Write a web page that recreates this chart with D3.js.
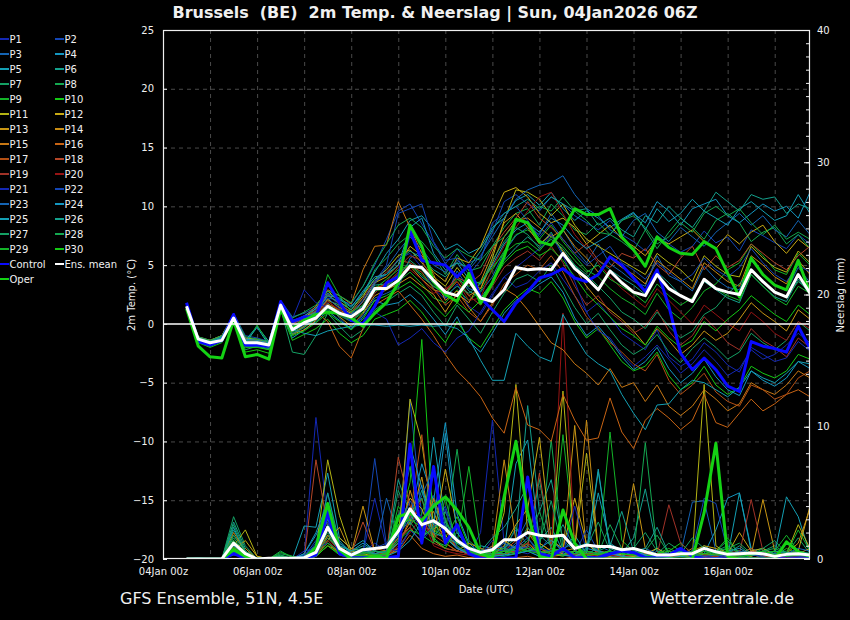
<!DOCTYPE html>
<html>
<head>
<meta charset="utf-8">
<script src="https://cdn.jsdelivr.net/npm/d3@7"></script>
<style>
  body { margin: 0; background: #000; }
  svg { display: block; }
  text { font-family: "DejaVu Sans", sans-serif; fill: #f0f0f0; white-space: pre; }
</style>
</head>
<body>
<svg id="chart" width="850" height="620"></svg>
<script>
// ---- data ----
var firstHour = 12, stepHours = 6, nSteps = 54;   // 04Jan 12z .. 17Jan 18z, 6-hourly
var tickDates = ["2026-01-04", "2026-01-06", "2026-01-08", "2026-01-10", "2026-01-12", "2026-01-14", "2026-01-16"];
var tempTicks = [-20, -15, -10, -5, 0, 5, 10, 15, 20, 25];
var precipTicks = [0, 10, 20, 30, 40];

var memberColors = ["#1428b4", "#1446b4", "#1464b4", "#1496c0", "#14a0b4", "#14a08c", "#14a064", "#14a850", "#14b428", "#14c814",
                    "#b4b414", "#c8aa14", "#c89614", "#c88c14", "#c87814", "#c86414", "#b45014", "#b44628", "#a03228", "#961414"];

var controlTemp = [1.8,-1.5,-1.8,-1.4,0.8,-1.8,-1.8,-1.9,1.9, 0.2,0.6,0.6,3.5,1.8,0.3,0.0,1.5,3.5,
                   4.0,7.9,5.4,5.2,5.0,4.0,5.0,2.2,1.2, 0.2,1.75,2.75,3.9,4.2,4.7,3.9,3.6,4.2,
                   5.7,5.0,3.9,2.75,4.6,1.5,-2.5,-3.9,-2.9, -3.9,-5.3,-5.75,-1.5,-1.9,-2.1,-2.4,-0.2,-2.1];
var operTemp = [1.3,-1.9,-2.8,-2.9,0.3,-2.8,-2.6,-3.0,1.3, -0.4,0.3,0.8,1.0,0.9,0.5,-0.2,0.9,1.8,
                3.5,8.4,6.6,3.6,2.5,1.9,4.3,1.75,3.5, 5.7,8.9,8.6,7.0,6.7,8.0,9.8,9.3,9.3,
                9.8,7.4,6.3,4.9,7.4,6.5,6.0,5.9,7.0, 6.4,4.3,2.3,5.6,4.2,3.3,2.9,5.4,2.6];
var meanTemp = [1.5,-1.3,-1.6,-1.4,0.5,-1.6,-1.6,-1.8,1.6, -0.5,0.1,0.5,1.5,0.9,0.6,1.3,3.0,3.0,
                3.7,4.9,4.8,3.7,2.7,2.4,3.7,2.2,1.9, 2.9,4.8,4.6,4.7,4.6,6.0,4.7,3.9,2.9,
                4.5,3.5,2.7,2.4,4.2,3.0,2.4,1.9,3.8, 3.0,2.7,2.5,4.6,3.6,2.7,2.3,4.2,2.6];

var controlPrecip = [0,0,0,0,0.4,0.05,0,0,0, 0,0,0.3,3.5,0.4,0.1,0.1,0.1,0.1,
                     0.2,8.7,1.2,7.0,1.2,2.6,0.4,0.05,0, 0.05,0.1,6.2,0.4,0.2,0.8,0.1,0.1,0.1,
                     0.4,0.6,0.5,0.1,0.1,0.3,0.8,0.2,0, 0,0,0,0,0,0,0,0,0];
var operPrecip = [0,0,0,0,0.7,0.2,0,0,0, 0,0,0.9,4.2,0.7,0,0,0.2,0.05,
                  3.2,3.5,2.9,4.0,4.7,3.7,2.4,0.4,0.05, 4.7,8.9,3.5,0.2,0,3.7,1.2,0,0,
                  0,0,0,0,0,0,0,0,3.5, 8.75,0.2,0,0,0,0,1.3,0.55,0.2];
var meanPrecip = [0,0,0,0,1.2,0.4,0,0.05,0.05, 0.05,0.1,0.5,2.4,0.8,0.3,0.7,0.8,0.9,
                  2.1,3.8,2.6,2.9,2.3,1.4,0.8,0.5,0.7, 1.45,1.45,2.0,1.8,1.7,1.8,0.8,1.05,0.95,
                  0.95,0.7,0.8,0.55,0.3,0.3,0.4,0.4,0.8, 0.55,0.35,0.4,0.45,0.4,0.2,0.35,0.4,0.3];

// P1 .. P30, 2m temperature
var memberTemp = [
  [1.6,-1.2,-1.5,-1.0,0.7,-1.2,-1.4,-1.6,1.8, 0.0,0.4,1.2,2.6,1.5,0.8,1.9,3.6,4.2, 5.5,6.0,4.8,3.0,2.1,3.4,1.5,0.8,2.4, 4.0,3.1,3.5,4.5,5.2,3.8,2.4,1.0,1.8, 0.6,-0.8,-1.5,-2.2,-0.5,-2.8,-3.6,-3.0,-1.6, -2.4,-3.5,-4.1,-2.0,-2.6,-3.2,-2.9,-1.5,-2.3],
  [1.7,-1.1,-1.4,-1.1,0.9,-1.0,-1.2,-1.5,2.0, 0.6,0.9,1.4,2.2,2.0,1.7,3.2,5.0,7.2, 9.6,10.2,8.5,6.9,5.1,6.4,5.2,5.6,7.8, 10.4,11.0,10.2,9.6,10.8,10.2,9.2,8.6,8.0, 8.8,7.6,7.0,6.2,7.5,6.8,6.1,6.6,7.9, 6.9,7.4,6.2,8.0,7.5,6.9,6.4,7.6,6.8],
  [1.4,-1.4,-1.7,-1.3,0.4,-1.7,-1.8,-2.0,1.4, -0.8,-0.3,0.6,1.8,0.5,-0.5,0.8,2.2,2.6, 3.1,5.6,6.2,3.6,2.2,4.5,3.0,2.7,4.0, 6.1,7.5,8.2,7.6,9.4,8.0,6.4,5.2,6.8, 5.1,4.4,3.6,3.2,5.8,4.1,3.6,2.8,4.9, 3.8,3.1,2.9,5.4,4.2,3.3,2.8,4.8,3.5],
  [1.5,-1.4,-1.8,-1.5,0.3,-1.9,-1.9,-2.1,1.2, -1.2,-0.5,0.2,1.1,0.3,-0.4,0.6,2.0,1.6, 1.8,2.5,1.6,0.4,-0.9,0.6,-1.5,-2.4,-0.8, 0.9,2.0,2.6,3.4,4.0,2.7,0.5,-1.0,-0.2, -1.4,-2.8,-3.9,-3.2,-2.0,-3.8,-5.0,-4.2,-3.0, -4.5,-5.6,-6.1,-4.0,-4.8,-5.3,-4.6,-3.2,-3.8],
  [1.6,-1.3,-1.5,-1.1,0.6,-1.4,-0.2,-1.5,1.7, 0.3,0.6,1.0,2.4,2.2,1.5,2.6,4.4,6.0, 7.2,8.8,9.2,8.0,6.3,6.8,6.0,6.5,8.2, 9.0,10.5,11.0,10.1,11.2,9.8,8.8,9.6,9.0, 8.2,8.9,9.5,8.0,9.8,8.7,9.4,10.6,9.6, 9.0,8.4,9.8,10.4,9.6,8.8,9.2,11.0,9.4],
  [1.5,-1.2,-1.6,-1.3,0.5,-1.5,-1.6,-1.9,1.5, -0.4,0.2,0.9,1.6,1.1,0.8,1.5,3.3,3.4, 4.2,5.1,4.0,3.2,2.5,4.1,2.8,2.2,3.6, 5.4,6.5,7.4,6.6,7.8,6.0,5.0,3.8,5.4, 4.6,3.9,3.3,2.5,4.4,3.5,2.4,1.8,3.6, 2.9,2.2,1.8,4.2,3.2,2.3,1.9,3.8,2.5],
  [1.4,-1.5,-1.9,-1.4,0.4,-2.2,-1.9,-2.2,1.3, -2.4,-2.6,-1.0,0.9,-0.2,-1.2,-0.5,1.2,1.9, 2.6,3.2,2.4,1.0,-0.2,1.6,0.4,-0.8,1.0, 2.6,3.8,4.2,3.6,5.0,3.2,1.4,0.0,0.9, -0.5,-1.8,-2.6,-2.0,-0.9,-2.4,-3.3,-2.1,-1.2, -2.0,-3.0,-2.4,-0.8,-1.6,-2.2,-1.4,0.2,-0.6],
  [1.5,-1.3,-1.7,-1.2,0.6,-1.6,-1.7,-1.8,1.6, -0.3,0.3,1.1,2.0,1.6,1.0,2.2,4.6,5.6, 6.8,7.6,7.0,5.8,4.2,5.9,4.5,4.8,6.6, 8.2,9.4,9.8,8.4,10.2,9.2,8.0,7.6,8.6, 7.6,7.0,6.2,8.0,6.4,7.8,9.0,8.2,7.2, 8.8,9.4,8.6,7.0,7.8,8.2,6.8,7.6,6.4],
  [1.5,-1.4,-1.6,-1.3,0.5,-1.8,-0.1,-1.7,1.4, -0.7,-0.2,0.4,1.3,0.9,0.2,1.0,2.8,3.0, 3.6,4.4,3.4,2.2,1.8,2.9,2.0,2.8,4.6, 6.2,7.6,8.0,7.2,8.4,7.0,5.8,4.6,4.0, 3.0,2.2,1.6,0.8,2.6,1.2,0.4,1.4,2.8, 3.4,4.6,5.2,6.8,5.8,4.6,4.2,6.0,5.0],
  [1.4,-1.6,-2.0,-1.6,0.2,-2.4,-2.2,-2.5,1.1, -1.4,-0.9,-0.4,0.4,-0.8,-1.6,-1.0,0.4,0.8, 1.2,2.0,1.0,-0.4,-1.6,0.2,-1.2,-2.0,-0.4, 1.2,2.2,3.0,2.6,3.6,2.2,0.2,-1.2,-0.4, -1.8,-3.2,-4.0,-3.6,-2.4,-4.4,-5.6,-5.0,-3.6, -5.2,-6.0,-5.4,-3.6,-4.2,-4.6,-4.0,-2.6,-3.0],
  [1.6,-1.2,-1.4,-1.0,0.8,-1.2,-1.3,-1.6,1.8, 0.2,0.5,1.3,2.8,1.9,1.2,2.4,3.8,4.6, 5.8,6.3,5.2,4.0,3.2,4.8,3.5,3.0,5.6, 8.8,11.4,11.2,10.6,9.2,10.2,8.4,7.2,6.6, 6.0,5.4,4.8,4.2,6.0,5.2,4.6,3.6,5.8, 4.9,4.2,4.0,6.6,5.6,4.8,4.4,6.2,5.2],
  [1.5,-1.3,-1.5,-1.2,0.6,-1.5,-1.5,-1.7,1.6, -0.2,0.4,0.9,2.1,1.4,0.9,1.9,3.5,4.0, 5.0,6.6,5.8,4.4,3.6,5.6,5.2,6.6,9.0, 11.2,11.6,10.8,9.4,8.6,9.0,8.2,6.8,7.6, 8.4,7.2,6.6,5.8,7.2,6.8,7.4,8.0,7.0, 6.4,7.6,6.8,7.8,8.4,7.0,6.0,7.2,6.4],
  [1.4,-1.5,-1.8,-1.4,0.3,-1.8,-1.7,-2.0,1.3, -0.9,-0.5,0.3,1.5,0.6,-0.2,0.9,2.4,2.9, 3.4,4.0,3.2,2.5,1.0,2.6,1.8,3.6,6.0, 8.6,9.4,8.2,6.8,7.6,6.2,4.8,3.2,2.0, 1.2,0.4,-0.6,-1.8,-0.4,-1.4,-2.6,-1.8,-0.6, -1.4,-0.8,0.4,1.8,0.9,0.2,-0.6,1.2,0.4],
  [1.5,-1.3,-1.6,-1.3,0.5,-1.6,-1.6,-1.8,1.5, -0.5,0.0,0.7,1.7,1.2,0.6,1.6,3.1,3.3, 4.1,4.9,3.8,2.9,2.6,3.6,2.4,3.0,5.2, 7.4,8.8,9.0,8.2,7.4,8.0,6.6,5.6,4.4, 5.6,4.8,4.2,3.4,5.4,4.6,3.8,3.0,5.2, 4.4,3.6,3.2,5.8,5.0,4.0,3.4,5.4,4.2],
  [1.6,-1.1,-1.4,-1.0,0.7,-1.3,-1.4,-1.6,1.7, 0.1,0.6,1.5,2.9,2.4,1.7,4.6,6.6,6.7, 10.4,8.2,6.0,4.2,2.0,2.8,1.4,0.2,1.8, 3.0,2.4,1.2,-0.2,-1.6,-2.2,-3.4,-4.2,-5.2, -3.8,-5.4,-5.0,-6.6,-5.2,-7.0,-7.8,-7.0,-5.6, -6.4,-7.4,-6.8,-5.0,-5.6,-6.0,-5.2,-4.0,-4.6],
  [1.4,-1.4,-1.7,-1.3,0.4,-1.7,-1.8,-1.9,1.4, -0.9,-0.2,1.0,0.2,-1.9,-2.9,-0.4,1.6,2.2, 2.8,1.6,0.4,-1.0,-2.6,-4.0,-5.0,-6.2,-8.0, -9.3,-5.4,-8.6,-9.0,-10.0,-6.0,-8.2,-9.9,-9.7, -6.3,-9.2,-10.6,-8.2,-7.2,-8.0,-9.0,-8.2,-6.0, -8.4,-8.8,-7.6,-6.4,-7.4,-6.8,-6.0,-5.6,-6.2],
  [1.5,-1.2,-1.5,-1.2,0.6,-1.4,-1.5,-1.7,1.6, -0.3,0.4,0.8,2.0,1.0,0.5,1.4,3.0,3.4, 4.4,5.0,4.4,3.0,1.6,2.4,1.0,0.2,1.6, 3.4,4.2,5.0,4.6,5.8,4.4,2.4,0.6,-0.4, -1.6,-2.4,-3.4,-4.0,-2.6,-4.8,-6.0,-5.2,-4.2, -5.8,-6.6,-7.0,-5.2,-5.6,-6.4,-6.0,-4.6,-4.0],
  [1.6,-1.2,-1.5,-1.1,0.7,-1.3,-1.5,-1.6,1.7, 0.0,0.5,1.1,2.5,1.7,1.0,2.2,3.6,4.4, 5.4,5.2,4.6,3.8,2.8,4.0,3.4,4.2,6.4, 7.8,9.0,10.4,9.0,8.2,7.2,6.0,6.8,5.4, 4.8,6.0,5.6,6.4,5.0,4.2,5.6,6.6,4.6, 5.8,4.8,5.4,6.8,6.0,5.2,4.6,5.8,6.6],
  [1.5,-1.3,-1.6,-1.4,0.5,-1.6,-1.7,-1.8,1.5, -0.6,0.0,0.6,1.6,0.8,0.3,1.2,2.6,3.6, 4.8,5.8,5.4,3.6,2.6,4.0,2.4,1.6,3.2, 4.8,5.6,6.2,5.4,6.6,5.2,3.2,1.6,2.4, 1.0,0.2,-0.8,-0.2,1.2,-0.6,-1.8,-1.0,0.6, -0.4,-1.6,-2.2,-0.4,-1.4,-2.0,-2.8,-1.2,-2.0],
  [1.5,-1.3,-1.7,-1.3,0.5,-1.7,-1.6,-1.9,1.6, -0.4,0.2,0.7,1.9,1.2,0.4,1.4,3.0,3.2, 4.2,4.6,3.8,2.6,3.0,3.6,2.0,2.2,4.8, 6.6,8.2,9.6,10.8,11.2,9.4,7.6,6.4,5.2, 4.0,3.0,2.2,1.4,3.0,2.0,1.0,0.0,1.6, 0.8,0.0,-0.6,1.0,0.2,-0.8,-1.4,0.2,-0.4],
  [1.6,-1.2,-1.5,-1.1,0.6,-1.5,-1.6,-1.7,1.7, 0.4,2.9,1.8,1.4,0.9,0.2,0.4,1.0,0.4, -1.8,-1.2,-0.4,-1.6,-2.4,-1.2,-0.6,1.0,2.6, 4.0,4.8,5.6,6.4,7.6,5.8,3.6,1.0,-0.6, -1.2,-2.6,-3.6,-2.8,-1.8,-3.0,-4.2,-3.4,-2.2, -3.2,-4.4,-3.8,-2.2,-3.0,-2.6,-1.8,-0.8,-1.6],
  [1.5,-1.3,-1.6,-1.2,0.6,-1.5,-1.6,-1.8,1.6, -0.2,0.3,0.9,2.2,1.3,0.8,2.0,3.6,5.0, 9.4,9.8,10.2,7.0,5.4,5.6,4.2,5.4,8.6, 9.4,10.0,8.8,7.4,8.6,7.2,6.0,5.0,5.8, 6.6,5.2,4.6,3.8,5.2,4.4,3.6,4.2,5.6, 4.6,4.0,4.8,6.4,5.2,4.2,3.6,5.0,4.4],
  [1.4,-1.4,-1.7,-1.3,0.4,-1.6,-1.7,-1.9,1.4, -0.6,-0.1,0.5,1.4,1.0,0.5,1.6,3.4,4.8, 6.2,7.4,6.4,5.0,4.4,5.4,4.6,5.8,7.4, 9.0,10.6,11.4,11.8,12.0,12.6,11.0,9.8,9.2, 8.0,7.4,8.8,9.4,7.8,7.0,8.2,7.4,6.6, 7.8,8.6,9.4,8.4,9.2,8.0,7.4,8.8,7.6],
  [1.6,-1.2,-1.5,-1.1,0.7,-1.3,-1.4,-1.6,1.8, 0.2,0.7,1.3,2.6,2.1,1.4,2.8,4.0,4.2, 5.0,8.2,9.0,6.0,4.6,5.2,3.8,3.4,5.0, 6.8,8.0,8.6,7.8,9.0,8.4,7.2,6.4,7.0, 7.6,8.8,9.4,8.6,10.4,9.6,8.4,9.8,10.2, 10.6,9.2,8.6,9.4,10.2,9.6,10.0,9.0,11.2],
  [1.5,-1.3,-1.6,-1.2,0.5,-1.6,-0.3,-1.8,1.5, -0.5,-0.8,-1.0,-0.6,-0.4,-0.2,-0.1,-0.1,-0.2, -0.1,-0.2,-0.1,-0.2,-0.1,-0.4,-1.2,-3.1,-4.8, -4.8,-0.8,-1.9,-2.8,-3.2,0.8,-1.0,-2.6,-3.4, -4.0,-6.0,-7.6,-9.0,-6.9,-6.8,-5.6,-4.8,-5.0, -5.6,-6.2,-5.4,-4.0,-4.6,-5.0,-4.2,-3.2,-3.4],
  [1.5,-1.2,-1.5,-1.1,0.6,-1.4,-1.5,-1.7,1.7, 0.1,0.5,1.0,2.4,1.8,1.2,2.6,3.8,4.2, 5.4,6.2,5.6,4.6,4.0,5.2,4.8,6.2,8.0, 9.4,10.0,10.6,9.8,10.8,10.2,9.6,9.8,8.4, 9.0,8.0,7.4,9.2,8.6,10.0,9.0,8.2,9.6, 11.2,10.4,9.6,11.0,10.6,10.8,9.4,10.2,9.8],
  [1.4,-1.4,-1.8,-1.4,0.4,-1.8,-1.8,-2.0,1.3, -0.9,-0.3,0.4,1.2,0.7,0.2,1.2,2.8,3.2, 4.0,5.4,4.6,3.4,2.4,3.2,2.6,3.4,5.4, 7.0,8.2,7.6,6.4,7.2,6.4,5.0,4.2,3.2, 2.2,1.0,0.4,-0.4,1.0,-0.2,-1.2,-0.6,0.8, 1.4,2.6,3.4,4.6,3.6,2.8,2.2,3.6,2.8],
  [1.6,-1.1,-1.4,-1.0,0.8,-1.1,-1.3,-1.5,1.9, 0.5,1.0,1.6,2.8,2.4,1.8,3.2,5.2,6.8, 8.4,9.0,8.2,6.6,5.6,6.4,5.8,5.4,6.6, 7.4,8.6,9.4,10.0,9.6,10.8,9.6,8.8,7.8, 7.6,8.8,9.2,8.2,6.8,7.4,8.6,7.8,9.4, 10.0,9.2,9.8,8.6,7.6,8.4,7.2,7.8,7.2],
  [1.5,-1.3,-1.6,-1.3,0.5,-1.6,-1.6,-1.8,1.5, -0.4,0.1,0.6,4.2,2.4,1.0,1.6,3.0,3.8, 4.6,5.0,4.2,3.2,2.6,3.8,3.2,3.6,4.8, 6.0,6.8,7.0,6.2,7.4,6.6,5.4,4.4,5.0, 3.8,3.2,2.6,1.8,3.4,2.4,1.6,2.2,3.8, 3.0,2.4,2.0,4.2,3.2,2.2,1.6,3.2,2.6],
  [1.4,-1.5,-1.9,-1.5,0.3,-2.0,-2.0,-2.2,1.2, -1.0,-0.6,0.1,0.9,0.2,-0.5,0.4,2.0,2.4, 3.0,3.6,2.8,1.6,0.6,1.8,1.0,2.0,3.6, 5.2,6.2,6.6,5.8,6.4,5.4,4.0,2.6,1.6, 0.6,-0.4,-1.0,-1.8,-0.2,-1.2,-2.0,-1.4,0.2, -0.6,0.4,1.2,2.4,1.6,0.8,0.2,1.6,0.8]
];

// P1 .. P30, precipitation (mm per 6 h)
var memberPrecip = [
  [0,0,0,0,0.6,0.2,0,0,0, 0,0.2,10.7,3.0,0.4,0.2,0.5,1.2,0.6, 1.5,3.6,2.2,4.8,1.8,0.8,0.3,2.0,10.5, 1.2,0.4,0.6,0.2,0.8,0.3,0.1,0.6,0.2, 0.1,0.3,0.8,0.2,0,0.1,0.4,0.2,0, 0,0.1,0.3,0,0,0.1,0,0.2,0],
  [0,0,0,0,0.4,0.1,0,0,0, 0,0.1,1.2,5.0,0.8,0.3,0.4,7.6,1.0, 0.6,12.0,3.2,2.4,4.0,1.4,0.6,0.2,0.4, 0.8,2.2,1.6,0.6,1.8,0.4,0.2,0.1,0.3, 0.2,0.1,0.3,0.6,0.2,0,0,0.1,0.3, 0.2,0,0,0.1,0,0,0,0,0],
  [0,0,0,0,0.3,0.2,0,0,0, 0,0,0.5,2.2,0.6,0.2,0.1,0.5,4.6, 1.6,3.4,5.6,1.8,2.6,0.9,0.4,0.2,0.6, 0.4,1.2,3.0,0.6,0.2,0.8,0.4,0.2,1.0, 0.6,0.3,0.2,0.1,0.6,0.2,0.4,4.3,4.4, 0.6,0.2,0.4,0.1,0,0,0.2,0,0],
  [0,0,0,0,1.8,0.6,0,0,0, 0,0.4,1.8,3.6,0.5,0.4,0.6,0.4,0.3, 2.6,3.2,7.2,4.4,10.3,3.4,1.2,0.4,0.2, 0.3,0.6,1.0,0.4,0.8,0.4,0.6,1.2,0.5, 0.3,0.2,0.1,0,0.2,0.1,0.3,0.6,0.4, 2.2,4.6,5.0,0.8,0.4,0.2,0.3,0.1,0],
  [0,0.1,0,0,2.4,0.4,0,0,0, 0,2.5,2.4,6.5,1.6,0.8,1.4,0.6,0.4, 0.8,2.2,1.4,9.2,2.8,1.2,0.6,1.0,0.8, 0.6,7.2,9.0,1.4,2.4,0.6,1.8,0.4,5.0, 1.2,0.6,0.4,0.2,0.8,0.3,0.2,0.4,0.6, 0.4,0.2,5.0,0.6,0.2,0.4,4.7,3.2,0.4],
  [0,0,0,0,2.8,0.8,0,0,0.2, 0.1,0.2,0.6,5.0,1.2,0.6,1.0,0.6,0.5, 6.0,3.4,1.8,2.2,3.6,1.4,0.6,0.4,1.0, 0.8,1.6,11.6,3.6,6.0,1.4,0.6,0.4,6.6, 0.8,0.4,1.6,5.3,0.8,0.3,0.6,0.4,1.0, 0.4,0.2,0.3,0.6,0.8,0.4,0.2,0.1,0.2],
  [0,0,0,0,3.2,1.0,0,0,0.4, 0.2,0,0.4,1.8,0.6,0.3,0.8,0.4,0.6, 3.0,7.0,1.6,2.8,1.2,2.0,0.8,0.4,0.2, 0.6,2.4,1.0,6.0,0.8,0.4,0.6,0.4,0.8, 1.0,0.4,0.2,0.6,0.4,1.2,0.6,0.3,0.2, 0.6,1.4,0.4,0.2,0.6,1.0,0.4,1.6,0.4],
  [0,0,0,0,1.6,0.4,0,0,0.6, 0.1,0,0.3,2.4,0.8,0.5,0.6,0.3,0.4, 1.6,3.6,2.6,4.4,2.0,8.3,1.4,0.6,0.3, 0.2,0.4,1.2,0.6,9.0,0.8,0.3,0.2,0.6, 0.2,0.4,0.2,8.8,0.6,0.4,0.2,0.3,0.6, 0.4,0.8,0.6,0.3,0.2,0.4,0.6,0.2,0.1],
  [0,0,0,0,1.2,0.3,0,0,0.3, 0,0,0.4,1.4,0.4,0.2,0.3,0.2,0.3, 4.0,2.6,3.4,6.4,3.0,1.2,7.0,0.8,0.4, 0.4,0.6,0.8,0.4,0.6,9.4,1.2,0.4,0.3, 9.6,1.4,0.6,0.4,0.2,0.6,0.3,0.2,0.4, 0.6,1.6,0.4,0.8,0.2,0.6,1.8,0.6,0.4],
  [0,0,0,0,0.8,0.2,0,0,0, 0,0,0.2,1.0,0.3,0.1,0.2,0.1,0.2, 2.4,5.8,16.6,2.2,1.6,3.2,1.0,0.4,0.6, 0.8,0.4,0.6,1.0,0.4,0.2,0.6,0.2,0.4, 0.6,0.4,0.2,0.1,0.3,0.6,1.2,0.4,0.2, 0.4,0.6,0.2,0.1,0,0.2,0.8,0.4,0.2],
  [0,0,0,0,1.0,2.2,0.2,0,0, 0,0,0.6,7.5,3.3,0.6,0.4,0.2,0.4, 1.4,12.1,8.8,2.6,1.8,0.8,0.6,0.3,0.4, 3.5,13.2,2.0,1.2,0.6,12.7,0.8,8.0,0.6, 0.4,0.2,0.6,0.3,0.2,0.4,0.6,0.3,13.2, 1.0,0.4,0.2,0.6,0.8,0.3,0.4,2.6,0.8],
  [0,0,0,0,0.6,1.4,0.2,0,0, 0,0,0.4,2.2,1.6,0.8,0.6,0.4,0.2, 2.2,4.6,3.8,1.6,6.8,2.4,0.8,0.4,0.3, 1.0,2.6,3.8,9.2,1.4,0.8,4.6,1.2,0.4, 0.6,0.3,0.2,0.4,0.8,0.3,0.2,0.6,1.0, 0.8,0.4,2.0,0.6,0.4,0.2,0.3,0.6,4.0],
  [0,0,0,0,0.5,0.8,0,0,0, 0,0,0.2,1.4,2.4,0.4,4.0,0.6,0.3, 1.2,2.8,6.2,1.4,0.8,0.6,1.2,0.8,0.6, 1.4,0.8,6.0,1.2,0.6,0.4,10.1,0.6,0.4, 0.2,0.6,5.7,0.8,0.3,0.2,0.4,0.6,0.3, 0.2,0.4,0.6,0.3,4.5,0.6,0.2,0.4,0.8],
  [0,0,0,0,2.0,0.6,0,0,0, 0,0,0.3,1.8,1.0,0.3,0.8,0.4,0.2, 0.8,5.2,2.4,3.6,1.2,0.6,0.4,0.3,0.8, 7.5,1.4,2.0,0.8,0.4,0.6,0.8,10.5,0.6, 0.4,0.3,0.2,0.6,0.4,0.2,0.3,0.8,0.4, 0.3,0.6,0.4,0.2,0.6,0.3,0.4,1.2,3.8],
  [0,0,0,0,1.2,0.4,0,0,0, 0,0,0.2,1.0,0.6,0.2,0.4,0.8,0.6, 1.6,2.4,1.2,4.6,2.2,0.8,0.4,0.6,0.3, 0.4,0.6,1.2,0.4,0.2,0.3,0.6,0.4,0.2, 0.1,0.2,0.4,0.1,0,0.2,0.3,0.1,0, 0.2,0.4,0.1,0,0.3,0.2,0,0.1,0],
  [0,0,0,0,0.8,0.3,0,0,0, 0,0,0.3,1.2,0.4,0.2,0.3,0.2,0.4, 0.6,1.8,0.8,0.4,0.2,0.3,0.1,0.2,0.1, 0,0.1,0.2,0,0.1,0,0.2,0.1,0, 0,0.1,0,0,0.2,0,0,0.1,0, 0,0,0.1,0,0,0.2,0,0,0.1],
  [0,0,0,0,1.4,0.5,0,0,0, 0,0,0.6,1.6,0.8,0.4,0.6,0.3,0.5, 0.8,3.2,9.4,1.8,1.2,0.6,0.4,0.8,0.4, 0.6,0.4,2.4,0.8,0.4,0.6,0.3,0.4,0.2, 0.3,0.2,0.1,0.4,0.2,0.1,0.3,0.2,0.1, 0.2,0.3,0.1,0,0.2,0.1,0,0.2,0],
  [0,0,0,0,0.9,0.4,0,0,0, 0,0,7.5,2.4,0.6,0.4,2.8,0.6,0.4, 7.7,4.0,3.0,1.6,2.2,0.8,0.6,0.4,1.0, 0.6,1.4,0.8,6.5,0.8,0.6,0.4,0.3,0.6, 0.4,0.2,0.3,0.6,0.4,0.3,0.2,0.6,0.4, 0.3,0.6,0.4,0.8,0.3,0.2,0.4,0.6,0.3],
  [0,0,0,0,0.7,0.3,0,0,0, 0,0,0.4,1.6,0.6,0.3,0.8,0.4,0.3, 1.4,2.4,4.6,1.2,0.8,0.6,0.4,0.6,0.3, 0.4,0.6,0.8,0.4,0.6,0.3,0.4,0.6,0.2, 0.3,0.2,0.4,0.6,0.3,4.1,1.2,0.4,0.2, 0.3,0.2,0.4,4.5,0.6,0.2,0.3,0.2,0.4],
  [0,0,0,0,0.6,0.3,0,0,0, 0,0,0.3,1.4,0.5,0.3,0.6,0.4,0.2, 1.0,2.0,3.2,1.0,0.6,0.4,0.3,0.2,0.4, 0.6,0.8,1.2,0.6,0.4,18.6,0.8,0.4,0.2, 0.3,0.2,0.4,0.2,0.3,0.6,0.4,0.2,0.3, 0.2,0.4,0.2,0.6,0.3,0.2,0.1,0.2,0.3],
  [0,0,0,0,0.4,0.2,0,0,0, 0,0.6,0.8,1.2,0.6,0.3,0.4,4.6,0.8, 0.6,2.2,1.4,2.4,3.8,0.8,0.6,0.3,1.4, 0.8,0.6,0.4,0.8,0.6,0.3,4.0,0.6,0.4, 0.3,0.6,0.4,0.2,0.3,0.4,0.6,0.3,0.2, 0.1,0.3,0.2,0.4,0.1,0,0.2,0.1,0],
  [0,0,0,0,0.5,0.2,0,0,0, 0,0.2,1.4,2.8,0.6,0.3,0.5,0.8,1.2, 2.2,4.4,3.0,2.0,1.6,0.8,0.4,0.6,0.8, 0.6,1.0,0.8,0.4,0.6,0.8,0.4,2.2,0.6, 0.3,0.6,0.4,0.8,0.4,0.2,0.4,0.6,4.6, 4.2,0.6,0.4,0.3,0.2,0.4,0.3,0.2,0.1],
  [0,0,0,0,0.6,0.3,0,0,0, 0,0.3,1.0,3.8,1.2,0.4,0.6,0.4,0.6, 1.8,3.0,4.8,6.8,2.4,1.6,0.8,0.4,0.6, 1.2,0.8,1.6,0.4,0.6,0.8,1.2,0.6,0.4, 0.6,0.4,0.8,0.3,0.2,0.6,0.3,0.4,0.2, 0.3,0.2,0.6,0.4,0.3,0.6,0.4,0.8,0.6],
  [0,0,0,0,1.0,0.3,0,0,0, 0,0.4,2.0,4.2,1.0,0.6,1.2,0.6,0.4, 1.2,8.6,5.4,2.6,9.5,2.0,0.8,0.6,0.4, 0.4,1.0,0.6,0.8,1.4,0.6,0.4,0.8,0.6, 0.4,0.2,0.6,0.3,0.2,0.4,0.6,0.3,0.8, 0.4,0.6,0.8,0.3,0.4,0.6,0.5,0.3,0.4],
  [0,0,0,0,1.4,0.4,0,0,0.1, 0,0.2,0.8,3.0,1.4,0.4,0.8,0.3,0.2, 0.6,1.4,2.8,4.2,1.6,0.8,0.4,0.6,0.2, 0.3,0.4,0.6,0.2,0.4,0.3,0.2,0.6,6.8, 0.6,0.2,0.1,0.3,0.2,0.1,0.2,0.1,0, 0.1,0,0.1,0,0,0.1,0,0,0],
  [0,0,0,0,2.2,0.6,0,0,0.2, 0,0.1,0.4,2.6,1.0,0.6,0.8,0.4,0.6, 3.4,2.6,5.2,2.0,1.6,1.2,0.8,0.6,1.6, 2.4,3.8,5.6,1.8,1.0,2.6,0.8,1.2,0.6, 1.0,3.6,0.6,0.8,2.4,0.4,0.6,0.3,0.8, 0.6,0.4,1.0,0.3,0.6,0.4,0.2,0.6,0.4],
  [0,0,0,0,2.6,0.6,0,0,0.3, 0,0,0.4,2.0,0.6,0.4,0.6,0.3,0.4, 5.2,2.8,1.6,2.4,2.8,1.4,0.6,0.4,0.3, 0.6,0.8,2.4,1.2,4.4,0.6,0.4,0.8,2.8, 0.6,0.4,0.8,2.0,0.6,0.3,0.4,1.6,0.8, 0.6,1.0,0.4,0.3,0.8,1.4,0.4,0.6,0.3],
  [0,0,0,0,1.8,0.5,0,0,0.2, 0,0,0.3,1.6,0.8,0.3,0.4,0.6,0.5, 2.0,3.4,4.6,1.4,1.0,2.6,0.8,0.4,0.6, 0.8,0.6,1.4,3.6,0.8,0.6,0.4,0.6,0.4, 2.6,0.8,0.4,0.6,1.8,0.4,0.3,0.6,0.4, 0.6,0.8,1.2,0.4,0.6,0.8,0.4,0.3,0.2],
  [0,0,0,0,1.4,0.4,0,0,0.5, 0.2,0,0.2,1.2,0.6,0.2,0.5,0.3,0.4, 1.4,2.2,1.8,1.2,4.6,1.0,0.4,0.3,0.6, 0.4,0.8,0.6,0.4,0.6,0.8,0.4,0.6,0.4, 0.6,0.4,0.3,0.6,0.4,0.8,0.4,0.3,0.6, 0.4,0.6,0.3,0.4,0.6,0.3,0.4,2.2,0.6],
  [0,0,0,0,0.9,0.3,0,0,0.1, 0,0,0.2,1.0,0.4,0.2,0.3,0.2,0.4, 2.6,3.0,2.4,1.6,0.8,2.4,0.6,0.3,0.4, 0.6,0.4,0.8,0.6,0.4,0.3,0.6,0.4,0.3, 0.6,0.4,0.3,0.2,0.4,0.6,0.3,0.2,0.4, 0.3,0.4,0.2,0.3,0.4,0.6,0.2,0.3,0.4]
];

// ---- layout ----
var W = 850, H = 620;
var L = 163, R = 810, T = 30, B = 559;

var svg = d3.select("#chart");
svg.append("rect").attr("width", W).attr("height", H).attr("fill", "#000");

var t0 = Date.UTC(2026, 0, 4, 0);
var times = d3.range(nSteps).map(function(i) {
    return new Date(t0 + (firstHour + i * stepHours) * 3600e3);
});

var x = d3.scaleUtc()
    .domain([new Date(t0), times[times.length - 1]])
    .range([L, R]);
var yT = d3.scaleLinear().domain([-20, 25]).range([B, T]);
var yP = d3.scaleLinear().domain([0, 40]).range([B, T]);

svg.append("defs").append("clipPath").attr("id", "plot")
  .append("rect").attr("x", L).attr("y", T).attr("width", R - L).attr("height", B - T);

// grid
var grid = svg.append("g").attr("stroke", "#4a4a4a").attr("stroke-dasharray", "4,4").attr("stroke-width", 1);
d3.utcDay.range(new Date(t0 + 86400e3), x.domain()[1]).forEach(function(d) {
    grid.append("line").attr("x1", x(d) + 0.5).attr("x2", x(d) + 0.5).attr("y1", T).attr("y2", B);
});
tempTicks.filter(function(v) { return v > -20 && v < 25 && v !== 0; }).forEach(function(v) {
    grid.append("line").attr("x1", L).attr("x2", R).attr("y1", yT(v) + 0.5).attr("y2", yT(v) + 0.5);
});

// lines
var plot = svg.append("g").attr("clip-path", "url(#plot)");
var lineT = d3.line().x(function(d, i) { return x(times[i]); }).y(function(d) { return yT(d); });
var lineP = d3.line().x(function(d, i) { return x(times[i]); }).y(function(d) { return yP(d); });

memberPrecip.forEach(function(s, k) {
    plot.append("path").attr("d", lineP(s)).attr("fill", "none")
        .attr("stroke", memberColors[k % 20]).attr("stroke-width", 1);
});
memberTemp.forEach(function(s, k) {
    plot.append("path").attr("d", lineT(s)).attr("fill", "none")
        .attr("stroke", memberColors[k % 20]).attr("stroke-width", 1);
});

// zero line
svg.append("line").attr("x1", L).attr("x2", R).attr("y1", yT(0)).attr("y2", yT(0))
    .attr("stroke", "#fff").attr("stroke-width", 1.5);

var thick = [
    [controlPrecip, lineP, "#0a0aff"], [operPrecip, lineP, "#14d214"], [meanPrecip, lineP, "#ffffff"],
    [controlTemp, lineT, "#0a0aff"], [operTemp, lineT, "#14d214"], [meanTemp, lineT, "#ffffff"]
];
thick.forEach(function(t) {
    plot.append("path").attr("d", t[1](t[0])).attr("fill", "none")
        .attr("stroke", t[2]).attr("stroke-width", 3).attr("stroke-linejoin", "round");
});

// frame
svg.append("rect").attr("x", L + 0.5).attr("y", T + 0.5).attr("width", R - L - 1).attr("height", B - T - 1)
    .attr("fill", "none").attr("stroke", "#f0f0f0").attr("stroke-width", 1.2);

// axes
var axisStyle = function(g) {
    g.select(".domain").remove();
    g.selectAll("line").attr("stroke", "#f0f0f0");
    g.selectAll("text").attr("font-size", 10).attr("fill", "#f0f0f0").attr("font-family", "DejaVu Sans");
};
svg.append("g").attr("transform", "translate(" + L + ",0)")
    .call(d3.axisLeft(yT).tickValues(tempTicks).tickSize(-4).tickPadding(9))
    .call(axisStyle);
svg.append("g").attr("transform", "translate(" + R + ",0)")
    .call(d3.axisRight(yP).tickValues(d3.range(0, 41, 1)).tickSize(-4).tickFormat(""))
    .call(axisStyle);
svg.append("g").attr("transform", "translate(" + R + ",0)")
    .call(d3.axisRight(yP).tickValues(precipTicks).tickSize(-6).tickPadding(7))
    .call(axisStyle);
svg.append("g").attr("transform", "translate(0," + B + ")")
    .call(d3.axisBottom(x).tickValues(tickDates.map(function(s) { return new Date(s + "T00:00:00Z"); }))
        .tickSize(0).tickPadding(9).tickFormat(d3.utcFormat("%d%b %Hz")))
    .call(axisStyle);

// axis titles
svg.append("text").attr("transform", "translate(135,295) rotate(-90)").attr("text-anchor", "middle")
    .attr("font-size", 10).text("2m Temp. (°C)");
svg.append("text").attr("transform", "translate(844,295) rotate(-90)").attr("text-anchor", "middle")
    .attr("font-size", 10).text("Neerslag (mm)");
svg.append("text").attr("x", 486).attr("y", 593).attr("text-anchor", "middle")
    .attr("font-size", 10).text("Date (UTC)");

// title & footer
svg.append("text").attr("x", 435).attr("y", 18).attr("text-anchor", "middle")
    .attr("font-size", 15).attr("font-weight", "bold").attr("fill", "#fff")
    .attr("textLength", 525).attr("lengthAdjust", "spacingAndGlyphs")
    .text("Brussels  (BE)  2m Temp. & Neerslag | Sun, 04Jan2026 06Z");
svg.append("text").attr("x", 120).attr("y", 604).attr("font-size", 16).attr("fill", "#e6e6e6")
    .text("GFS Ensemble, 51N, 4.5E");
svg.append("text").attr("x", 794).attr("y", 604).attr("text-anchor", "end").attr("font-size", 16).attr("fill", "#e6e6e6")
    .text("Wetterzentrale.de");

// legend
var legendItems = memberColors.concat(memberColors.slice(0, 10)).map(function(c, i) {
    return { name: "P" + (i + 1), color: c };
});
legendItems.push({ name: "Control", color: "#0a0aff" }, { name: "Ens. mean", color: "#ffffff" }, { name: "Oper", color: "#14d214" });
var legend = svg.append("g");
legendItems.forEach(function(d, i) {
    var col = i % 2, row = Math.floor(i / 2);
    var lx = col === 0 ? 0 : 55, ly = 39 + row * 15;
    legend.append("line").attr("x1", lx).attr("x2", lx + 9).attr("y1", ly).attr("y2", ly)
        .attr("stroke", d.color).attr("stroke-width", 2);
    legend.append("text").attr("x", lx + 9.5).attr("y", ly + 4).attr("font-size", 10).text(d.name);
});
</script>
</body>
</html>
